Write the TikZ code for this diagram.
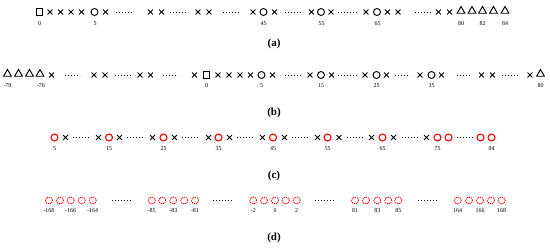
\documentclass[tikz,border=0pt]{standalone}
\usepackage{fontspec}
\setmainfont{Liberation Serif}
\usetikzlibrary{shapes.geometric,shapes.misc}
\begin{document}
\begin{tikzpicture}[x=1pt,y=-1pt,
  sqm/.style={draw,rectangle,minimum size=6.5pt,inner sep=0pt,line width=0.95pt},
  xm/.style={draw,cross out,minimum size=4pt,inner sep=0pt,line width=0.95pt},
  om/.style={draw,circle,minimum size=7pt,inner sep=0pt,line width=0.95pt},
  tm/.style={draw,regular polygon,regular polygon sides=3,minimum size=9pt,inner sep=0pt,line width=0.95pt,yshift=1pt},
  rom/.style={om,draw=red,line width=1.1pt},
  dom/.style={draw=red,circle,minimum size=7pt,inner sep=0pt,line width=0.9pt,dash pattern=on 1.2pt off 0.9pt},
  lab/.style={font=\fontsize{6}{7}\selectfont,inner sep=0pt},
  panel/.style={font=\bfseries\fontsize{11}{13}\selectfont,inner sep=0pt},
  dotseg/.style={line width=1pt,dash pattern=on 0.8pt off 2.2pt}
]
\useasboundingbox (0,0) rectangle (550,247);

% ---------- row (a)
\node[sqm] (asq) at (39.5,12) {};
\foreach \x [count=\i] in {50,60.5,71,81.5,105.5,150.5,161.5,198,209,253,274.5,311.5,331,366,387.5,398,438.5,449.5}
  \node[xm] (ax\i) at (\x,12) {};
\foreach \x [count=\i] in {94.5,263.5,321,377}
  \node[om] (ao\i) at (\x,12) {};
\foreach \x [count=\i] in {461,472,482.5,493.5,505}
  \node[tm] (at\i) at (\x,12) {};
\foreach \a/\b in {116/133,170/188,223/240,285/303,338/357,415/432}
  \draw[dotseg] (\a,12) -- (\b,12);
\foreach \x/\t [count=\i] in {39.5/0,95/5,263.5/45,321.5/55,377.5/65,461/80,482.5/82,505/84}
  \node[lab] (al\i) at (\x,23.5) {\t};
\node[panel] (pa) at (274,44) {(a)};

% ---------- row (b)
\foreach \x [count=\i] in {7.5,18.5,29.5,40,540.5}
  \node[tm] (bt\i) at (\x,75) {};
\node[sqm] (bsq) at (206.5,75) {};
\foreach \x [count=\i] in {51.5,94,105,140,150.5,194.5,218,229,240,250.5,272.5,310,331.5,365,386.5,420,441.5,481.5,492.5,530}
  \node[xm] (bx\i) at (\x,75) {};
\foreach \x [count=\i] in {261.5,321,376.5,431.5}
  \node[om] (bo\i) at (\x,75) {};
\foreach \a/\b in {65/80,115/132,163/178,285/302,338/357,395/410,457/472,502/518}
  \draw[dotseg] (\a,75) -- (\b,75);
\foreach \x/\t [count=\i] in {7.5/-79,41/-76,206.5/0,261.5/5,321/15,376.5/25,431.5/35,540.5/80}
  \node[lab] (bl\i) at (\x,86) {\t};
\node[panel] (pb) at (274,113) {(b)};

% ---------- row (c)
\foreach \x [count=\i] in {54.5,109,163.5,218.5,273,327.5,382.5,437.5,448.5,480.5,491.5}
  \node[rom] (co\i) at (\x,137.5) {};
\foreach \x [count=\i] in {65.5,98.5,119.5,152.5,174.5,208.5,229.5,262.5,284.5,317.5,339,371.5,393.5,426.5}
  \node[xm] (cx\i) at (\x,137.5) {};
\foreach \a/\b in {73/90,127/145,182/200,237/255,292/310,347/365,402/420,457/475}
  \draw[dotseg] (\a,137.5) -- (\b,137.5);
\foreach \x/\t [count=\i] in {54.5/5,109/15,163.5/25,218.5/35,273/45,327.5/55,382.5/65,437.5/75,491.5/84}
  \node[lab] (cl\i) at (\x,149) {\t};
\node[panel] (pc) at (274,176) {(c)};

% ---------- row (d)
\foreach \x [count=\i] in {49,60,70.7,81.7,92.7,151.7,162.3,173.3,184.3,195,253.3,264,275,285.7,296.7,355,366,377.3,388.3,398.3,457.7,469,480,491,501.7}
  \node[dom] (do\i) at (\x,200.5) {};
\foreach \a/\b in {112/132,213/233,315/335,418/438}
  \draw[dotseg] (\a,200.5) -- (\b,200.5);
\foreach \x/\t [count=\i] in {49/-168,70.7/-166,92.7/-164,151.7/-85,173.3/-83,195/-81,253.3/-2,275/0,296.7/2,355/81,377.3/83,398.3/85,457.7/164,480/166,501.7/168}
  \node[lab] (dl\i) at (\x,211) {\t};
\node[panel] (pd) at (274,238) {(d)};
\end{tikzpicture}
\end{document}
